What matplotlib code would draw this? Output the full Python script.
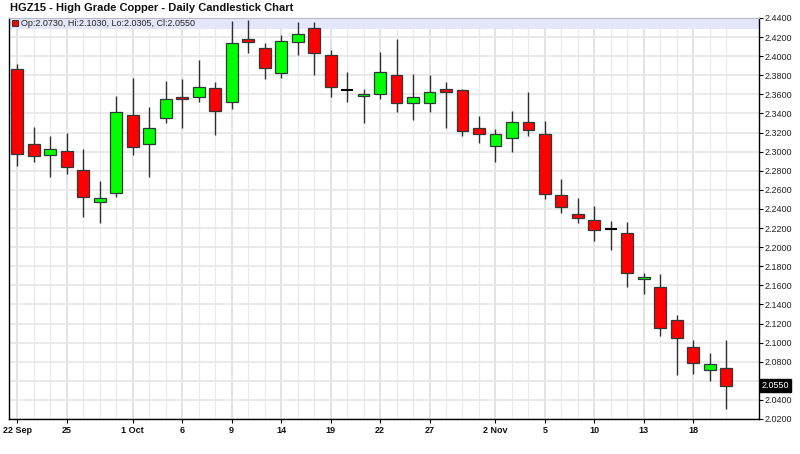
import matplotlib
matplotlib.use('Agg')
import matplotlib.pyplot as plt
from matplotlib.ticker import FixedLocator, FuncFormatter
import matplotlib.transforms as mtransforms

plt.rcParams['font.family'] = ['Liberation Sans', 'DejaVu Sans']

# Daily bars, HGZ15 (trading days only)
dates = ['2015-09-22', '2015-09-23', '2015-09-24', '2015-09-25', '2015-09-28',
         '2015-09-29', '2015-09-30', '2015-10-01', '2015-10-02', '2015-10-05',
         '2015-10-06', '2015-10-07', '2015-10-08', '2015-10-09', '2015-10-12',
         '2015-10-13', '2015-10-14', '2015-10-15', '2015-10-16', '2015-10-19',
         '2015-10-20', '2015-10-21', '2015-10-22', '2015-10-23', '2015-10-26',
         '2015-10-27', '2015-10-28', '2015-10-29', '2015-10-30', '2015-11-02',
         '2015-11-03', '2015-11-04', '2015-11-05', '2015-11-06', '2015-11-09',
         '2015-11-10', '2015-11-11', '2015-11-12', '2015-11-13', '2015-11-16',
         '2015-11-17', '2015-11-18', '2015-11-19', '2015-11-20']

opens = [2.3865, 2.3085, 2.2960, 2.3005, 2.2805, 2.2475, 2.2570, 2.3380, 2.3085, 2.3355,
         2.3575, 2.3570, 2.3670, 2.3515, 2.4185, 2.4085, 2.3820, 2.4145, 2.4290, 2.4015,
         2.3645, 2.3585, 2.3600, 2.3800, 2.3505, 2.3505, 2.3660, 2.3645, 2.3245, 2.3055,
         2.3140, 2.3310, 2.3190, 2.2545, 2.2350, 2.2285, 2.2185, 2.2145, 2.1665, 2.1585,
         2.1235, 2.0950, 2.0710, 2.0730]
highs = [2.3920, 2.3255, 2.3160, 2.3200, 2.3030, 2.2695, 2.3585, 2.3770, 2.3470, 2.3740,
         2.3760, 2.3965, 2.3730, 2.4370, 2.4375, 2.4140, 2.4220, 2.4355, 2.4355, 2.4060,
         2.3835, 2.3655, 2.4045, 2.4175, 2.3815, 2.3805, 2.3730, 2.3655, 2.3375, 2.3240,
         2.3425, 2.3620, 2.3320, 2.2715, 2.2515, 2.2430, 2.2275, 2.2265, 2.1725, 2.1715,
         2.1285, 2.1025, 2.0895, 2.1030]
lows = [2.2850, 2.2895, 2.2730, 2.2765, 2.2315, 2.2250, 2.2530, 2.2970, 2.2730, 2.3295,
        2.3250, 2.3515, 2.3175, 2.3450, 2.4030, 2.3760, 2.3770, 2.4015, 2.3805, 2.3570,
        2.3515, 2.3305, 2.3550, 2.3420, 2.3330, 2.3420, 2.3250, 2.3165, 2.3095, 2.2890,
        2.3000, 2.3165, 2.2505, 2.2355, 2.2255, 2.2060, 2.1970, 2.1580, 2.1505, 2.1070,
        2.0660, 2.0670, 2.0595, 2.0305]
closes = [2.2975, 2.2955, 2.3030, 2.2835, 2.2520, 2.2515, 2.3415, 2.3045, 2.3250, 2.3550,
          2.3550, 2.3675, 2.3430, 2.4135, 2.4150, 2.3875, 2.4155, 2.4230, 2.4035, 2.3675,
          2.3645, 2.3605, 2.3830, 2.3505, 2.3570, 2.3620, 2.3625, 2.3215, 2.3180, 2.3190,
          2.3310, 2.3225, 2.2555, 2.2425, 2.2300, 2.2175, 2.2185, 2.1725, 2.1685, 2.1155,
          2.1045, 2.0785, 2.0775, 2.0550]

tick_dates = ['2015-09-22', '2015-09-25', '2015-10-01', '2015-10-06', '2015-10-09',
              '2015-10-14', '2015-10-19', '2015-10-22', '2015-10-27', '2015-11-02',
              '2015-11-05', '2015-11-10', '2015-11-13', '2015-11-18']
tick_labels = ['22 Sep', '25', '1 Oct', '6', '9', '14', '19', '22', '27', '2 Nov',
               '5', '10', '13', '18']
y_ticks = [2.02, 2.04, 2.06, 2.08, 2.10, 2.12, 2.14, 2.16, 2.18, 2.20, 2.22,
           2.24, 2.26, 2.28, 2.30, 2.32, 2.34, 2.36, 2.38, 2.40, 2.42, 2.44]

edge = '#2e3838'
body_w = 0.72
last = closes[-1]

fig = plt.figure(figsize=(8, 4.54), dpi=100)
ax = fig.add_axes([0.01125, 0.0771, 0.9379, 0.8833])

x = list(range(len(dates)))

# wicks
ax.vlines(x, lows, highs, color='#303030', linewidth=1.0, zorder=3)

# bodies
for i in x:
    o, c = opens[i], closes[i]
    if c == o:
        ax.hlines(o, i - body_w / 2, i + body_w / 2, color='black', linewidth=1.5, zorder=4)
        continue
    col = '#00ff00' if c > o else '#ff0000'
    ax.bar(i, abs(c - o), bottom=min(o, c), width=body_w, color=col,
           edgecolor=edge, linewidth=0.9, zorder=4)

ax.set_xlim(-0.5, len(dates) + 1)
ax.set_ylim(2.02, 2.44)

# header band with last bar values
band = plt.Rectangle((0, 1 - 0.0275), 1, 0.0275, transform=ax.transAxes,
                     facecolor='#e6e6fa', edgecolor='none', zorder=1)
ax.add_patch(band)
ax.plot([0.0075], [1 - 0.0137], marker='s', markersize=5, color='#ff0000',
        markeredgecolor='#333333', markeredgewidth=0.7, transform=ax.transAxes,
        zorder=6, clip_on=False)
ax.text(0.0165, 1 - 0.0137,
        f'Op:{opens[-1]:.4f}, Hi:{highs[-1]:.4f}, Lo:{lows[-1]:.4f}, Cl:{closes[-1]:.4f}',
        transform=ax.transAxes, fontsize=6.5, color='#222222', va='center', ha='left',
        zorder=6)

# axes styling
for s in ['left', 'right', 'bottom']:
    ax.spines[s].set_color('black')
    ax.spines[s].set_linewidth(1.0)
ax.spines['top'].set_color('#b8b8c8')
ax.spines['top'].set_linewidth(0.8)

# hide the label that sits under the last-price box
def price_fmt(v, pos):
    if abs(v - last) < 0.01:
        return ''
    return f'{v:.4f}'

ax.yaxis.tick_right()
ax.yaxis.set_major_locator(FixedLocator(y_ticks))
ax.yaxis.set_major_formatter(FuncFormatter(price_fmt))
ax.tick_params(axis='y', which='major', direction='out', length=3, width=0.8,
               pad=1, labelsize=6.5, labelcolor='#222222')

tick_pos = [dates.index(d) for d in tick_dates]
ax.xaxis.set_major_locator(FixedLocator(tick_pos))
ax.set_xticklabels(tick_labels, fontweight='bold', fontsize=6.5)
ax.xaxis.set_minor_locator(FixedLocator(x))
ax.tick_params(axis='x', which='major', direction='out', length=3, width=0.8,
               pad=2, labelcolor='#111111')
ax.tick_params(axis='x', which='minor', length=0)

ax.set_axisbelow(True)
ax.grid(axis='y', which='major', color='#e6e6e6', linewidth=1.2)
ax.grid(axis='x', which='major', color='#dedede', linewidth=1.2)
ax.grid(axis='x', which='minor', color='#ececec', linewidth=1.0)

# last price marker on the right axis
trans = mtransforms.blended_transform_factory(ax.transAxes, ax.transData)
ax.text(1.0035, last, f'{last:.4f}', transform=trans, fontsize=6.5,
        color='white', va='center', ha='left', zorder=7, clip_on=False,
        bbox=dict(boxstyle='square,pad=0.2', facecolor='black', edgecolor='black'))

fig.text(0.0125, 0.982, 'HGZ15 - High Grade Copper - Daily Candlestick Chart',
         fontsize=8, fontweight='bold', color='#111111', va='center', ha='left')

fig.savefig('out.png', dpi=100, facecolor='white')
